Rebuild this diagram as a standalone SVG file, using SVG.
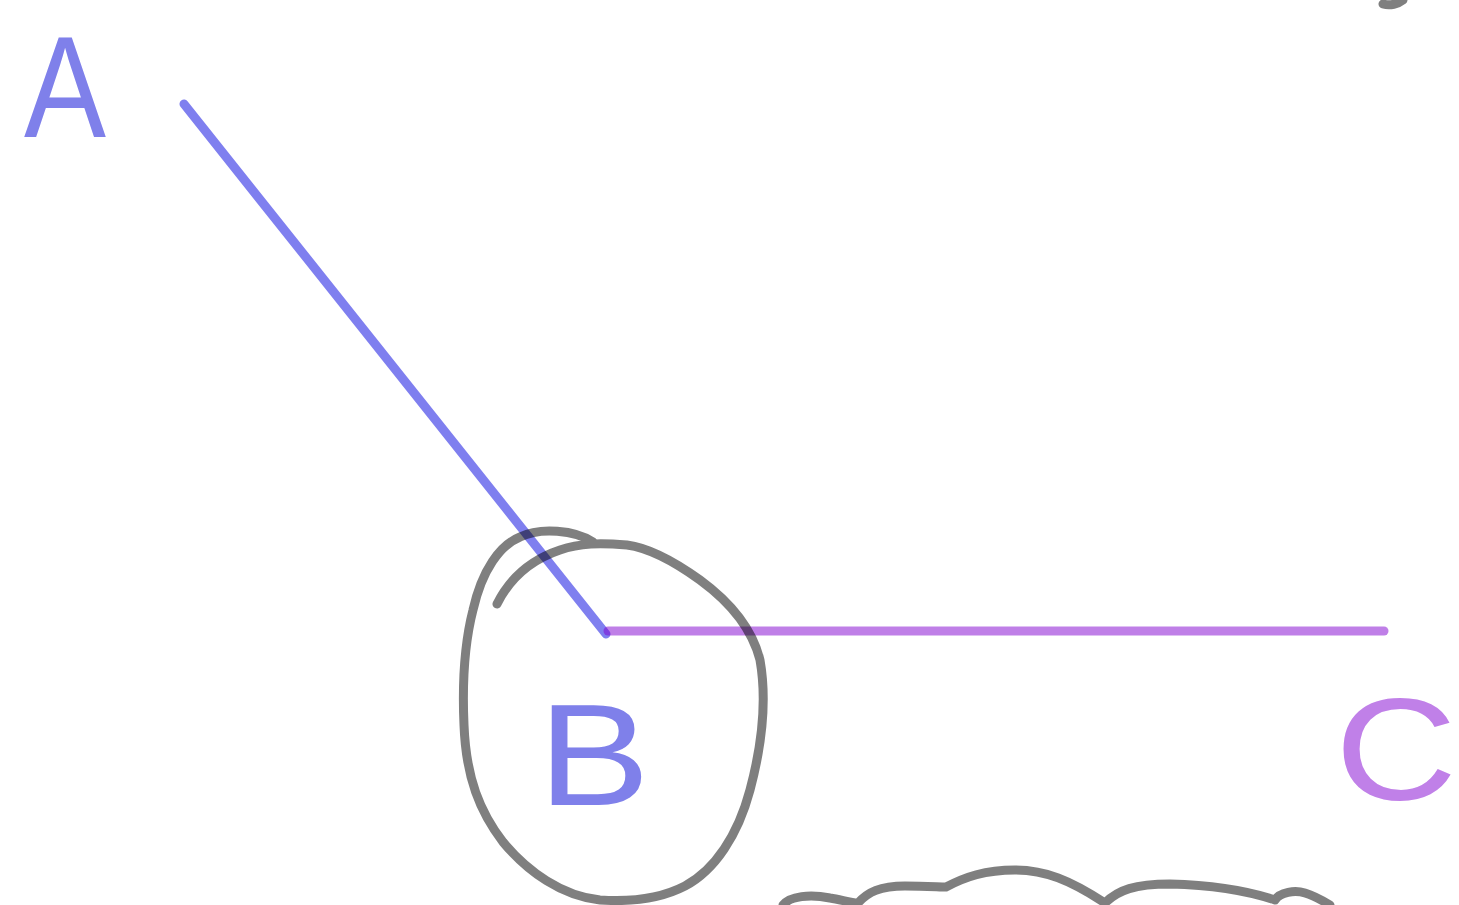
<svg xmlns="http://www.w3.org/2000/svg" width="1459" height="905" viewBox="0 0 1459 905">
<style>
.s{fill:none;stroke-width:9;stroke-linecap:round;stroke-linejoin:round}
.g{stroke:#000;stroke-opacity:0.5}
.b{stroke:#0000e0;stroke-opacity:0.5}
.p{stroke:#8000d0;stroke-opacity:0.5}
.t{font-family:"Liberation Sans",Arial,sans-serif;font-size:145px}
</style>
<rect width="1459" height="905" fill="#fff"/>
<g id="connectors">
<path class="s b" d="M184,104 L606,634"/>
<path class="s p" d="M608,631 L1384,631"/>
</g>
<g id="node-A">
<text class="t" x="24" y="137" fill="#7f80ea" textLength="82" lengthAdjust="spacingAndGlyphs">A</text>
</g>
<g id="node-B">
<path class="s g" d="M497,604 C510,578 530,560 560,550 C580,543 600,543 627,545 C650,548 675,562 700,580 C730,602 752,628 760,660 C767,700 762,745 750,790 C738,835 715,870 685,886 C660,899 630,902 600,900 C562,896 528,872 503,842 C480,812 466,778 464,725 C462,680 464,645 473,610 C482,570 500,545 520,537 C540,527 575,530 593,542"/>
<text class="t" x="538" y="805" fill="#7f80ea" textLength="112" lengthAdjust="spacingAndGlyphs">B</text>
</g>
<g id="node-C">
<text class="t" x="1335" y="800" fill="#c080e8" textLength="122" lengthAdjust="spacingAndGlyphs">C</text>
</g>
<g id="cloud">
<path class="s g" d="M783,905 C790,896 810,894 830,898 C842,900 852,903 858,903 C868,892 880,886 905,886 C925,886 940,887 946,887 C965,877 985,870 1015,870 C1045,870 1070,880 1105,903 C1118,890 1135,884 1170,884 C1210,885 1245,890 1275,900 C1280,892 1295,890 1305,893 C1315,896 1325,902 1330,905"/>
</g>
<g id="mark">
<path class="s g" d="M1383,4 C1390,6 1398,4 1403,0" stroke-width="10"/>
</g>
</svg>
